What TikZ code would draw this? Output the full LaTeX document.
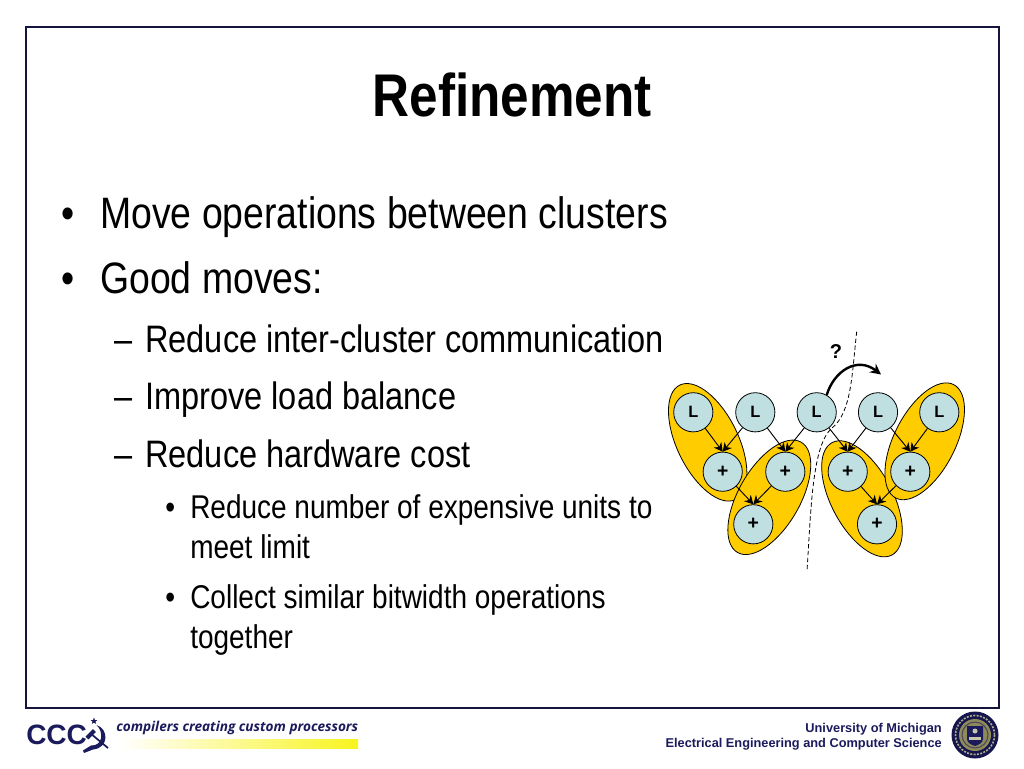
\documentclass[tikz,border=0pt]{standalone}
\usepackage{fontspec}
\setmainfont{Liberation Sans}
\newfontfamily\narrowfont[FakeStretch=0.85]{Liberation Sans}
\newfontfamily\logofont{Open Sans}
\usetikzlibrary{shapes.geometric,arrows.meta}
\definecolor{navy}{HTML}{1A1A5C}
\definecolor{framecol}{HTML}{14143C}
\definecolor{gold}{HTML}{FFCC00}
\definecolor{pale}{HTML}{BFDFE0}
\definecolor{barY}{HTML}{F8F41E}
\definecolor{seal}{HTML}{8F8A5A}
\tikzset{
  opnode/.style={circle,draw=black,fill=pale,line width=0.6pt,minimum size=29.4pt,inner sep=0pt,font=\fontsize{12.3}{12.3}\selectfont\bfseries},
  plusnode/.style={opnode,font=\fontsize{14.5}{14.5}\selectfont\bfseries},
  blob/.style={ellipse,draw=black,fill=gold,line width=0.6pt,minimum width=95.5pt,minimum height=46pt,inner sep=0pt},
  edgearr/.style={-{Stealth[length=6.5pt,width=7pt]},line width=0.7pt,black},
  lone/.style={anchor=base west,inner sep=0pt,font=\narrowfont\fontsize{33}{33}\selectfont},
  ltwo/.style={anchor=base west,inner sep=0pt,font=\narrowfont\fontsize{28.7}{28.7}\selectfont},
  lthree/.style={anchor=base west,inner sep=0pt,font=\narrowfont\fontsize{24.7}{24.7}\selectfont},
  foot/.style={anchor=base east,inner sep=0pt,text=navy,font=\fontsize{9.58}{9.58}\selectfont\bfseries},
}
\begin{document}
\begin{tikzpicture}[x=0.75pt,y=-0.75pt]
\useasboundingbox (0,0) rectangle (1024,768);
\fill[white] (0,0) rectangle (1024,768);
\draw[framecol,line width=1.6pt] (26,27) rectangle (999,708);
\node[anchor=base,inner sep=0pt,font=\narrowfont\fontsize{45.2}{45.2}\selectfont\bfseries] (title) at (512,116) {Refinement};
% text
\node[lone] (b1) at (61.5,228) {•};
\node[lone] (t1) at (100,228) {Move operations between clusters};
\node[lone] (b2) at (61.5,293.5) {•};
\node[lone] (t2) at (100,293.5) {Good moves:};
\node[ltwo] (d1) at (114,352) {–};
\node[ltwo] (t3) at (145,352) {Reduce inter-cluster communication};
\node[ltwo] (d2) at (114,409) {–};
\node[ltwo] (t4) at (145,409) {Improve load balance};
\node[ltwo] (d3) at (114,467) {–};
\node[ltwo] (t5) at (145,467) {Reduce hardware cost};
\node[lthree] (b3) at (165,518) {•};
\node[lthree] (t6) at (190,518) {Reduce number of expensive units to};
\node[lthree] (t7) at (190,558) {meet limit};
\node[lthree] (b4) at (165,608) {•};
\node[lthree] (t8) at (190,608) {Collect similar bitwidth operations};
\node[lthree] (t9) at (190,648) {together};
% clusters
\node[blob,rotate=-64] (e1) at (707.7,442.3) {};
\node[blob,rotate=60] (e2) at (769.3,497.3) {};
\node[blob,rotate=-62] (e3) at (862,498.8) {};
\node[blob,rotate=63] (e4) at (924.7,441.3) {};
% dashed partition
\coordinate (c0) at (856.7,331.7);
\coordinate (c1) at (807,571);
\draw[black,line width=0.6pt,dash pattern=on 3.2pt off 2pt] (c0) .. controls (852,372) and (852,412) .. (832,428) .. controls (812,445) and (811,510) .. (c1);
% nodes
\foreach \n/\x/\y/\t in {L1/693.3/412.3/L,L2/755.3/412.3/L,L3/816.7/412.3/L,L4/878/412.3/L,L5/939.3/412.3/L}
  \node[opnode] (\n) at (\x,\y) {\t};
\foreach \n/\x/\y/\t in {p1/722.7/471.7/+,p2/785.3/471.7/+,p3/847.7/471.7/+,p4/910.3/471.7/+,p5/753.3/524.3/+,p6/877/524.3/+}
  \node[plusnode] (\n) at (\x,\y) {\t};
% edges
\draw[edgearr] (L1) -- (p1.north);
\draw[edgearr] (L2) -- (p1.north);
\draw[edgearr] (L2) -- (p2.north);
\draw[edgearr] (L3) -- (p2.north);
\draw[edgearr] (L3) -- (p3.north);
\draw[edgearr] (L4) -- (p3.north);
\draw[edgearr] (L4) -- (p4.north);
\draw[edgearr] (L5) -- (p4.north);
\draw[edgearr] (p1) -- (p5.north);
\draw[edgearr] (p2) -- (p5.north);
\draw[edgearr] (p3) -- (p6.north);
\draw[edgearr] (p4) -- (p6.north);
% move arrow
\coordinate (mv) at (881,374.5);
\draw[-{Stealth[length=8pt,width=8pt]},line width=1.8pt,black] (L3.60) .. controls (834,371) and (857,356) .. (mv);
\node[font=\fontsize{15}{15}\selectfont\bfseries,inner sep=0pt] (q) at (836,352) {?};
% logo
\node[anchor=base west,inner sep=0pt,text=navy,font=\fontsize{21}{21}\selectfont\bfseries] (ccc) at (26,744.5) {CCC};
\node[anchor=base west,inner sep=0pt,text=navy,font=\logofont\fontsize{10.2}{10.2}\selectfont\bfseries\itshape] (tag) at (116,731.5) {compilers creating custom processors};
\fill[left color=white,right color=barY,draw=none] (120,739.5) rectangle (358,748);
% star, sickle and hammer
\fill[navy] (94,717.5) -- (94.9,720) -- (97.5,720) -- (95.4,721.6) -- (96.2,724) -- (94,722.6) -- (91.8,724) -- (92.6,721.6) -- (90.5,720) -- (93.1,720) -- cycle;
\fill[navy] (96.5,725) .. controls (109,729) and (109,748) .. (93,749.5) -- (84,753) -- (83,750.5) -- (91,745.5) .. controls (103,746) and (104,732) .. cycle;
\draw[navy,line width=1.3pt] (90,733) -- (108,748);
\draw[navy,line width=3pt] (87,738) -- (94.5,730.5);
% seal
\fill[navy!85!black] (975,735) circle (23.5);
\draw[seal!70!white,line width=1.2pt,dash pattern=on 1.5pt off 1pt] (975,735) circle (19.5);
\fill[seal] (975,735) circle (16);
\draw[navy!60!seal,line width=0.8pt] (975,735) circle (13);
\fill[navy] (967,726) -- (983,726) -- (983,739) .. controls (983,743) and (978,745) .. (975,746) .. controls (972,745) and (967,743) .. (967,739) -- cycle;
\fill[seal!50!white] (969,737) rectangle (981,740);
\fill[seal!50!white] (975,731) circle (2.5);
% footer
\node[foot] (u1) at (942,732) {University of Michigan};
\node[foot] (u2) at (942,747) {Electrical Engineering and Computer Science};
\end{tikzpicture}
\end{document}
